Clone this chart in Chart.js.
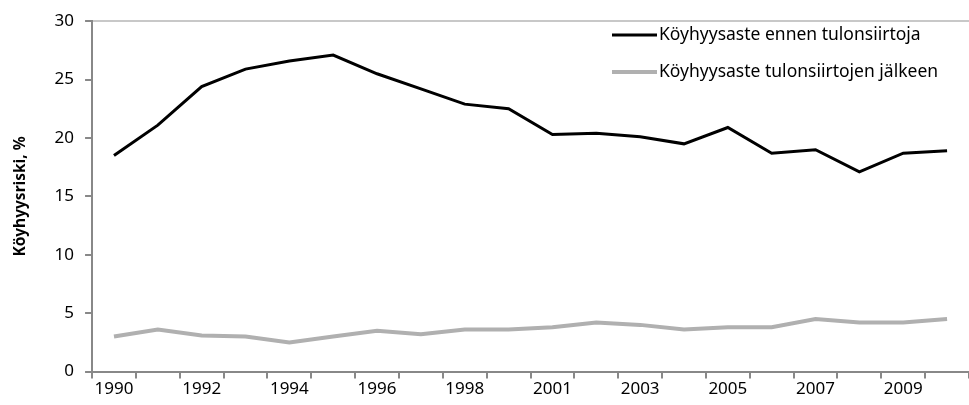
<!DOCTYPE html>
<html>
<head>
<meta charset="utf-8">
<script src="https://cdn.jsdelivr.net/npm/chart.js@4"></script>
<style>
  html, body { margin: 0; padding: 0; background: #fff; }
  #wrap { width: 969px; height: 405px; }
</style>
</head>
<body>
<div id="wrap"><canvas id="myChart"></canvas></div>
<script>
// years (2000 is missing in the source series)
const years = ['1990','1991','1992','1993','1994','1995','1996','1997','1998','1999',
               '2001','2002','2003','2004','2005','2006','2007','2008','2009','2010'];
const beforeTransfers = [18.5, 21.1, 24.4, 25.9, 26.6, 27.1, 25.5, 24.2, 22.9, 22.5,
                         20.3, 20.4, 20.1, 19.5, 20.9, 18.7, 19.0, 17.1, 18.7, 18.9];
const afterTransfers = [3.0, 3.6, 3.1, 3.0, 2.5, 3.0, 3.5, 3.2, 3.6, 3.6,
                        3.8, 4.2, 4.0, 3.6, 3.8, 3.8, 4.5, 4.2, 4.2, 4.5];
const seriesNames = ['Köyhyysaste ennen tulonsiirtoja', 'Köyhyysaste tulonsiirtojen jälkeen'];
const yTicks = [0, 5, 10, 15, 20, 25, 30];

const font = '"Noto Sans", sans-serif';

// small legend drawn inside the plot, top right
const insideLegend = {
  id: 'insideLegend',
  afterDraw(chart) {
    const c = chart.ctx;
    const x0 = 612, rows = [35, 72];
    c.save();
    c.font = '17.5px ' + font;
    c.textBaseline = 'middle';
    chart.data.datasets.forEach((ds, i) => {
      c.strokeStyle = ds.borderColor;
      c.lineWidth = ds.borderWidth;
      c.beginPath();
      c.moveTo(x0, rows[i]);
      c.lineTo(x0 + 45, rows[i]);
      c.stroke();
      c.fillStyle = '#000';
      c.fillText(ds.label, x0 + 47, rows[i]);
    });
    c.restore();
  }
};

new Chart(document.getElementById('myChart'), {
  type: 'line',
  data: {
    labels: years,
    datasets: [{
      label: seriesNames[0],
      data: beforeTransfers,
      borderColor: '#000',
      borderWidth: 3,
      pointRadius: 0,
      tension: 0
    }, {
      label: seriesNames[1],
      data: afterTransfers,
      borderColor: '#b0b0b0',
      borderWidth: 4,
      pointRadius: 0,
      tension: 0
    }]
  },
  options: {
    responsive: true,
    maintainAspectRatio: false,
    animation: false,
    layout: { padding: { top: 10, right: 0, left: 7, bottom: 6 } },
    plugins: { legend: { display: false }, tooltip: { enabled: false } },
    scales: {
      x: {
        offset: true,
        grid: {
          offset: true,
          drawOnChartArea: false,
          tickLength: 7,
          tickColor: '#888',
          lineWidth: 2
        },
        border: { color: '#888', width: 2 },
        ticks: {
          autoSkip: false,
          maxRotation: 0,
          color: '#000',
          font: { family: font, size: 17 },
          padding: 0,
          callback: (v, i) => (i % 2 === 0 ? years[i] : '')
        }
      },
      y: {
        min: 0,
        max: 30,
        afterBuildTicks: s => { s.ticks = yTicks.map(v => ({ value: v })); },
        grid: {
          color: ctx => (ctx.tick && ctx.tick.value === 30 ? '#c8c8c8' : 'rgba(0,0,0,0)'),
          lineWidth: 2,
          tickLength: 7,
          tickColor: '#888'
        },
        border: { color: '#888', width: 2 },
        ticks: {
          color: '#000',
          font: { family: font, size: 17 },
          padding: 11
        },
        title: {
          display: true,
          text: 'Köyhyysriski, %',
          color: '#000',
          font: { family: font, size: 15.5, weight: 'bold' },
          padding: { bottom: 14 }
        }
      }
    }
  },
  plugins: [insideLegend]
});
</script>
</body>
</html>
